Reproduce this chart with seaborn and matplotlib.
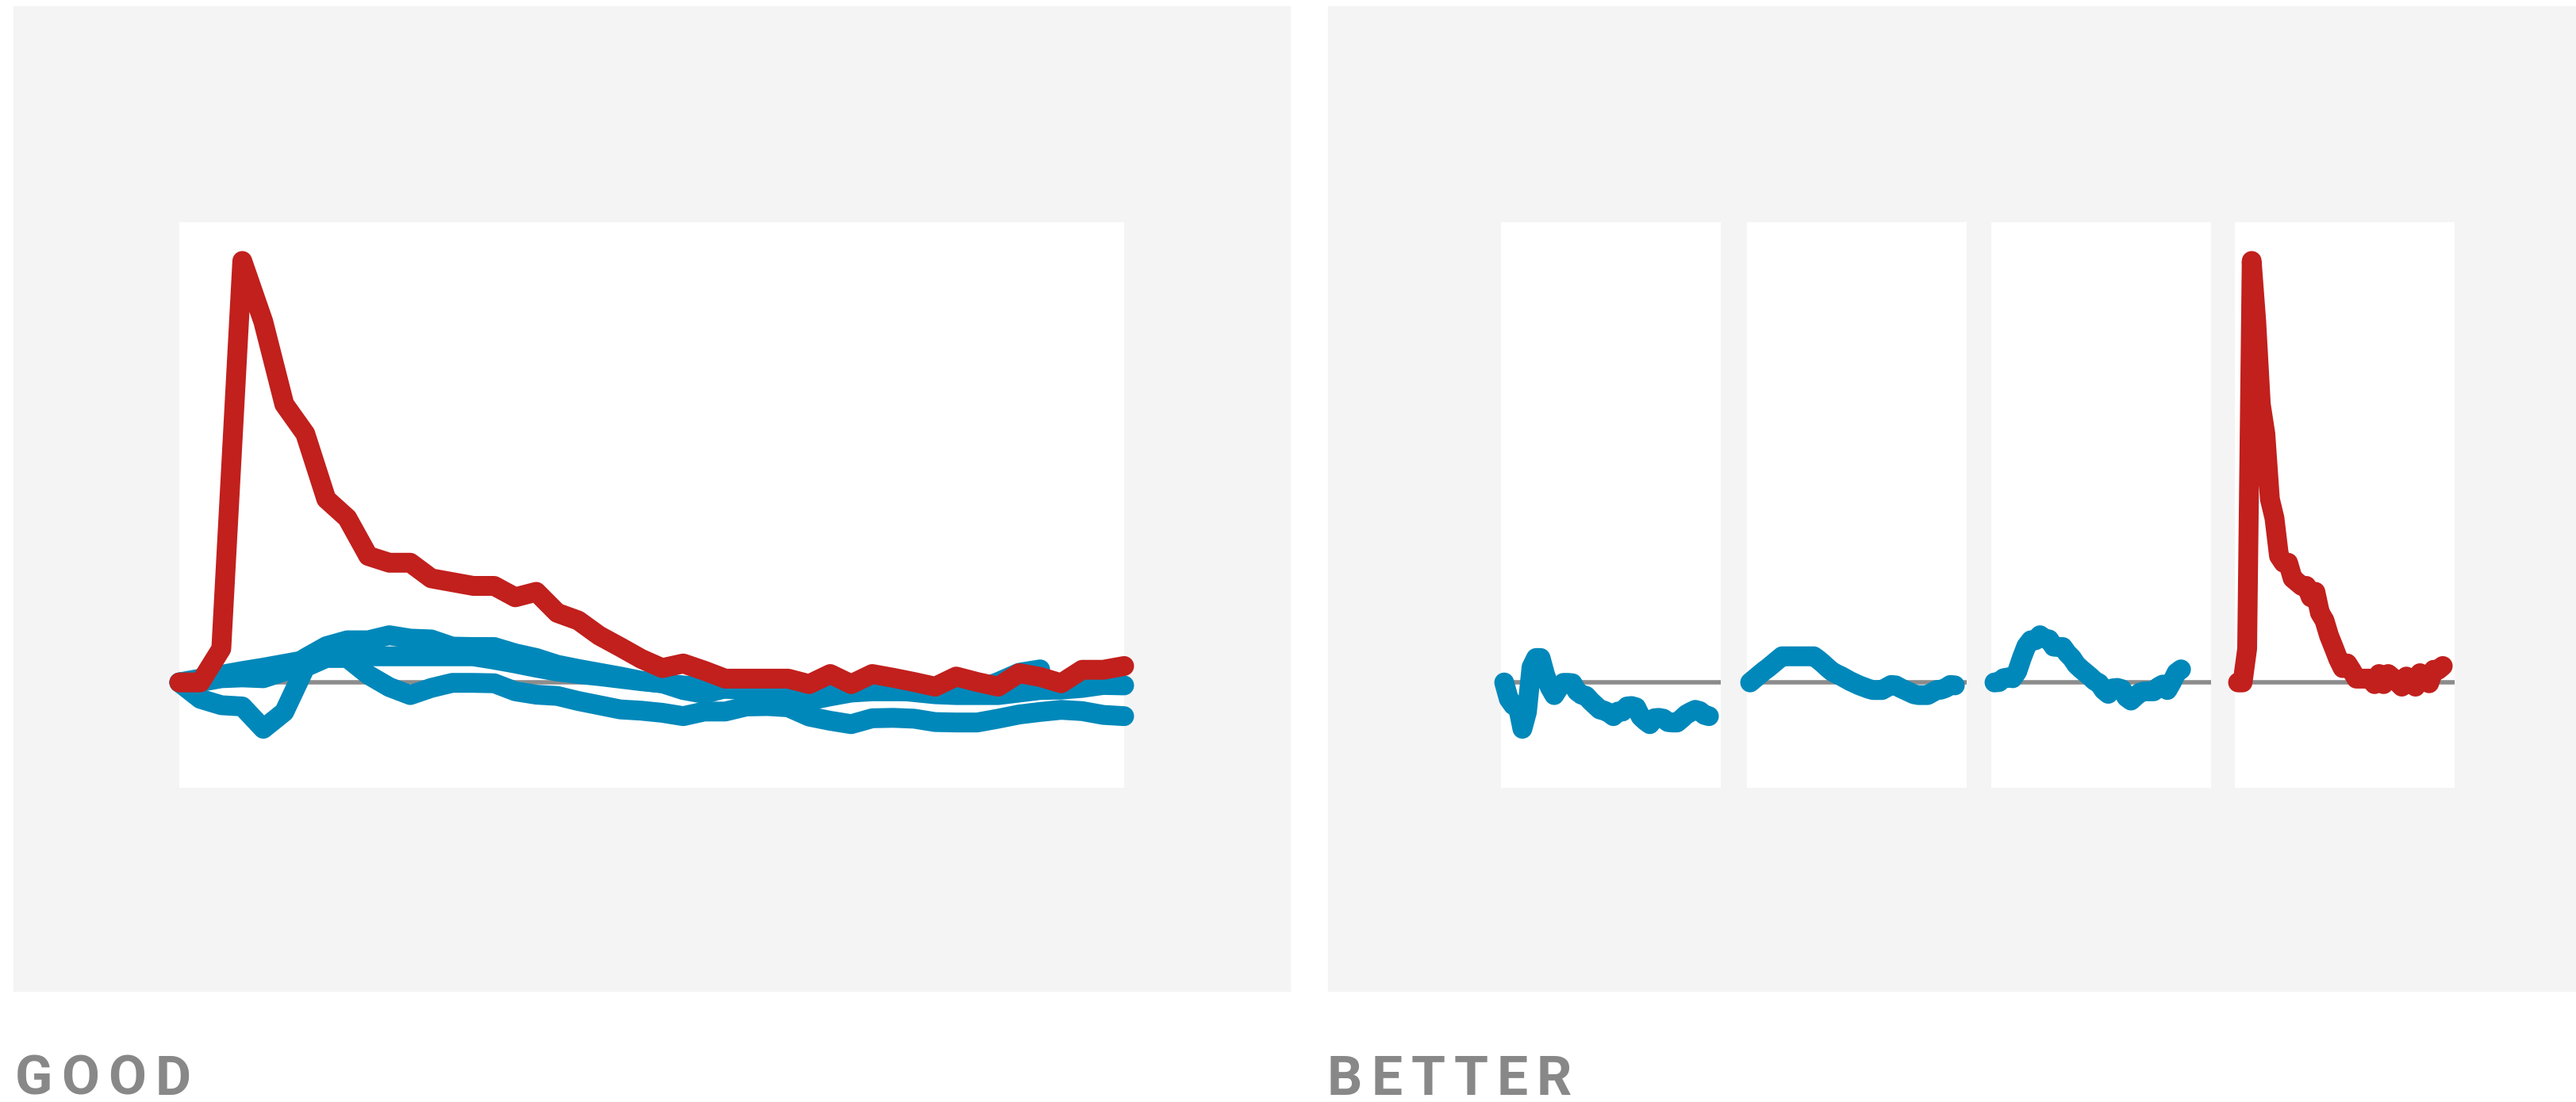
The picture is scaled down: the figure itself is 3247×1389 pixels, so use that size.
import numpy as np
import pandas as pd
import matplotlib.pyplot as plt
import matplotlib.transforms as mtransforms
import seaborn as sns

# values in % of the red series' peak, one point per period
red = [0, 0, 8, 100, 85.6, 66, 59, 43.5, 39, 30, 28.4, 28.4, 24.7, 23.8, 22.9,
       22.9, 20.2, 21.5, 16.5, 14.7, 11.1, 8.4, 5.6, 3.4, 4.5, 2.8, 0.9, 0.9,
       0.9, 0.9, -0.4, 2.0, -0.4, 2.0, 1.1, 0.1, -1.0, 1.4, 0.1, -1.0, 2.2,
       1.3, -0.2, 3.0, 3.0, 3.9]
blue_a = [0, -3.9, -5.4, -5.7, -11, -7, 3.6, 5.8, 5.8, 1.8, -1.1, -3, -1.3,
          -0.1, -0.1, -0.2, -2.1, -2.9, -3.2, -4.4, -5.4, -6.4, -6.7, -7.2,
          -8.0, -6.9, -6.9, -5.7, -5.6, -5.9, -8.1, -9.1, -9.9, -8.5, -8.4,
          -8.6, -9.4, -9.5, -9.5, -8.6, -7.6, -7.0, -6.5, -6.8, -7.7, -8.0]
blue_b = [0, 0.9, 1.8, 2.7, 3.5, 4.4, 5.3, 6.2, 6.2, 6.2, 6.2, 6.2, 6.2, 6.2,
          6.2, 5.4, 4.5, 3.5, 2.6, 2.0, 1.5, 0.9, 0.3, -0.2, -0.7, -1.1, -1.5,
          -1.8, -1.8, -1.8, -1.2, -0.6, -0.7, -1.3, -1.8, -2.3, -2.8, -3.0,
          -3.0, -3.0, -2.4, -1.8, -1.7, -1.3, -0.6, -0.7]
blue_c = [0, 0.1, 1.0, 1.2, 1.0, 2.6, 5.8, 8.6, 10.0, 10.0, 11.2, 10.4, 10.2,
          8.5, 8.4, 8.4, 6.9, 5.8, 4.2, 3.2, 2.3, 1.4, 0.4, -0.2, -1.8, -2.7,
          -1.4, -1.3, -1.6, -3.5, -4.3, -3.3, -2.4, -2.1, -2.1, -2.1, -1.1,
          -0.5, -1.8, 0.1, 2.3, 3.1]
captions = ['GOOD', 'BETTER']

RED = '#c1201d'
BLUE = '#0188ba'
PANEL = '#f4f4f4'
ZERO = '#8c8c8c'
TEXT = '#888888'

series = [(blue_a, BLUE), (blue_b, BLUE), (blue_c, BLUE), (red, RED)]

sns.set_theme(style='white')
plt.rcParams['font.family'] = ['Roboto', 'DejaVu Sans']

W, H = 3248, 1389
fig = plt.figure(figsize=(W / 100, H / 100), dpi=100)
fig.patch.set_facecolor('white')

LW = 18        # data line width (pt)
ZW = 4         # zero line width (pt)
FS = 50        # caption font size (pt)
TRACK = 8      # extra letter spacing (pt)


def box(x0, y0, x1, y1):
    # pixel box (top-left origin) -> figure fraction rect
    return [x0 / W, 1 - y1 / H, (x1 - x0) / W, (y1 - y0) / H]


def clean(ax):
    ax.set_xticks([])
    ax.set_yticks([])
    ax.set_xlabel('')
    ax.set_ylabel('')
    sns.despine(ax=ax, left=True, bottom=True)


def draw(ax, vals, color):
    df = pd.DataFrame({'t': np.arange(len(vals)), 'v': vals})
    sns.lineplot(data=df, x='t', y='v', ax=ax, color=color, linewidth=LW,
                 solid_capstyle='round', solid_joinstyle='round',
                 clip_on=False, zorder=3)


def spaced_text(x_px, base_px, word):
    # letter-spaced caption: glyph offsets kept in points so they scale with the text
    renderer = fig.canvas.get_renderer()
    off = 0.0
    for ch in word:
        tr = mtransforms.offset_copy(fig.transFigure, fig=fig, x=off, y=0, units='points')
        t = fig.text(x_px / W, 1 - base_px / H, ch, fontsize=FS, color=TEXT,
                     fontweight='semibold', va='baseline', ha='left', transform=tr)
        off += t.get_window_extent(renderer).width * 72 / fig.dpi + TRACK


# grey background panels
for x0, x1 in [(17, 1626), (1674, 3248)]:
    r = box(x0, 8, x1, 1249)
    fig.add_artist(plt.Rectangle((r[0], r[1]), r[2], r[3], transform=fig.transFigure,
                                 color=PANEL, zorder=-5))

YLIM = (-25, 109.2)

# GOOD: everything on one axis
ax = fig.add_axes(box(226, 280, 1417, 993))
ax.set_facecolor('white')
ax.axhline(0, color=ZERO, lw=ZW, zorder=1)
for vals, color in series:
    draw(ax, vals, color)
ax.set_xlim(0, 45)
ax.set_ylim(*YLIM)
clean(ax)

# BETTER: small multiples
for left, (vals, color) in zip([1892, 2202, 2510, 2817], series):
    ax = fig.add_axes(box(left, 280, left + 277, 993))
    ax.set_facecolor('white')
    ax.axhline(0, color=ZERO, lw=ZW, zorder=1)
    draw(ax, vals, color)
    ax.set_xlim(-0.7, 47.6)
    ax.set_ylim(*YLIM)
    clean(ax)

spaced_text(19, 1380, captions[0])
spaced_text(1673, 1380, captions[1])

fig.savefig('out.png', dpi=100, facecolor='white')
